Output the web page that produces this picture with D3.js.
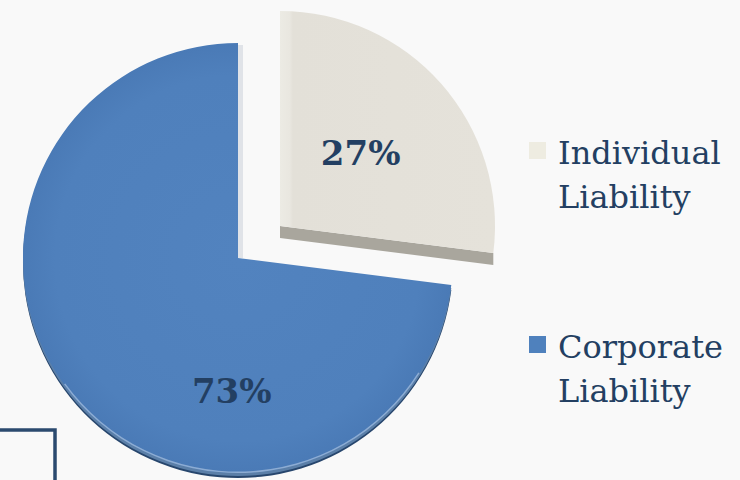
<!DOCTYPE html>
<html>
<head>
<meta charset="utf-8">
<script src="https://cdn.jsdelivr.net/npm/d3@7"></script>
<style>
  html, body { margin: 0; padding: 0; background: #f9f9f9; }
  svg { display: block; }
</style>
</head>
<body>
<svg id="chart" width="740" height="480"></svg>
<script>
// Share of liability by type
const categories = ["Individual Liability", "Corporate Liability"];
const shares = [27, 73];
const shareLabels = ["27%", "73%"];
const legendLines = [["Individual", "Liability"], ["Corporate", "Liability"]];

const faceColors = ["#e5e2da", "#4f80bc"];
const swatchColors = ["#eeece1", "#4f81bd"];
const textColor = "#233f62";

const W = 740, H = 480;
const cx = 238, cy = 258, R = 215;
const explode = [42, -32];   // pull-out of the first slice
const wallDepth = 12;        // visible thickness of the pulled-out slice
const rimDepth = 5;          // visible rim of the main slice

const svg = d3.select("#chart");
svg.append("rect").attr("width", W).attr("height", H).attr("fill", "#f9f9f9");

const defs = svg.append("defs");
const g1 = defs.append("linearGradient").attr("id", "beigeFace")
  .attr("gradientUnits", "userSpaceOnUse")
  .attr("x1", 0).attr("y1", 0).attr("x2", R).attr("y2", 0);
g1.append("stop").attr("offset", "0%").attr("stop-color", "#ecebe4");
g1.append("stop").attr("offset", "4.5%").attr("stop-color", "#e9e7e0");
g1.append("stop").attr("offset", "6%").attr("stop-color", "#e3e0d8");
g1.append("stop").attr("offset", "100%").attr("stop-color", faceColors[0]);

const g2 = defs.append("radialGradient").attr("id", "blueFace")
  .attr("gradientUnits", "userSpaceOnUse")
  .attr("cx", 0).attr("cy", 0).attr("r", R);
g2.append("stop").attr("offset", "0%").attr("stop-color", "#5283bf");
g2.append("stop").attr("offset", "85%").attr("stop-color", faceColors[1]);
g2.append("stop").attr("offset", "100%").attr("stop-color", "#4a7ab6");

const pie = d3.pie().sort(null).value(d => d);
const arcs = pie(shares);
const arc = d3.arc().innerRadius(0).outerRadius(R);

// ---- main (blue) slice ----
const main = svg.append("g").attr("transform", `translate(${cx},${cy})`);
const blue = arcs[1];

// soft shadow along the straight top edge
main.append("rect")
  .attr("x", 0).attr("y", -R + 2).attr("width", 5).attr("height", R - 2)
  .attr("fill", "#d9dde3").attr("opacity", 0.8);

// rim beneath the face
main.append("path")
  .attr("d", arc(blue))
  .attr("transform", `translate(0,${rimDepth})`)
  .attr("fill", "#27466d");
main.append("path")
  .attr("d", arc(blue))
  .attr("transform", `translate(0,${rimDepth - 2})`)
  .attr("fill", "#5b7fa8");
main.append("path")
  .attr("d", arc(blue))
  .attr("fill", "url(#blueFace)");
// light edge highlight along the lower arc
main.append("path")
  .attr("d", d3.arc().innerRadius(R - 1.5).outerRadius(R)
    .startAngle(Math.PI * 0.68).endAngle(Math.PI * 1.3)())
  .attr("fill", "#a9c2e0").attr("opacity", 0.7);

// ---- pulled-out (beige) slice ----
const side = svg.append("g")
  .attr("transform", `translate(${cx + explode[0]},${cy + explode[1]})`);
const beige = arcs[0];
const ex = R * Math.sin(beige.endAngle), ey = -R * Math.cos(beige.endAngle);
side.append("path")
  .attr("d", `M0,0L${ex},${ey}L${ex},${ey + wallDepth}L0,${wallDepth}Z`)
  .attr("fill", "#a9a69d");
side.append("path")
  .attr("d", arc(beige))
  .attr("fill", "url(#beigeFace)");

// ---- percentage labels ----
const labelFont = "'DejaVu Serif', 'Liberation Serif', serif";
const c0 = arc.centroid(beige);
side.append("text")
  .attr("x", c0[0]).attr("y", c0[1] + 10)
  .attr("text-anchor", "middle")
  .attr("font-family", labelFont).attr("font-weight", "bold")
  .attr("font-size", 34).attr("fill", textColor)
  .text(shareLabels[0]);

// the large slice's label sits low in the slice
const blueLabelAngle = Math.PI * 1.015, blueLabelR = R * 0.62;
main.append("text")
  .attr("x", blueLabelR * Math.sin(blueLabelAngle))
  .attr("y", -blueLabelR * Math.cos(blueLabelAngle) + 12)
  .attr("text-anchor", "middle")
  .attr("font-family", labelFont).attr("font-weight", "bold")
  .attr("font-size", 34).attr("fill", textColor)
  .text(shareLabels[1]);

// ---- legend ----
const legendY = d3.scalePoint().domain(categories).range([142, 336]);
const legend = svg.append("g").attr("transform", "translate(529,0)");
categories.forEach((c, i) => {
  const y0 = legendY(c);
  legend.append("rect")
    .attr("x", 0).attr("y", y0).attr("width", 17).attr("height", 17)
    .attr("fill", swatchColors[i]);
  const t = legend.append("text")
    .attr("x", 29).attr("y", y0 + 22)
    .attr("font-family", labelFont).attr("font-size", 32)
    .attr("fill", textColor);
  legendLines[i].forEach((ln, j) => {
    t.append("tspan").attr("x", 29).attr("dy", j === 0 ? 0 : 44).text(ln);
  });
});

// ---- frame peeking in at the lower left ----
svg.append("rect")
  .attr("x", -10).attr("y", 430).attr("width", 65).attr("height", 80)
  .attr("fill", "none").attr("stroke", "#2b4a6f").attr("stroke-width", 3.5);
</script>
</body>
</html>
